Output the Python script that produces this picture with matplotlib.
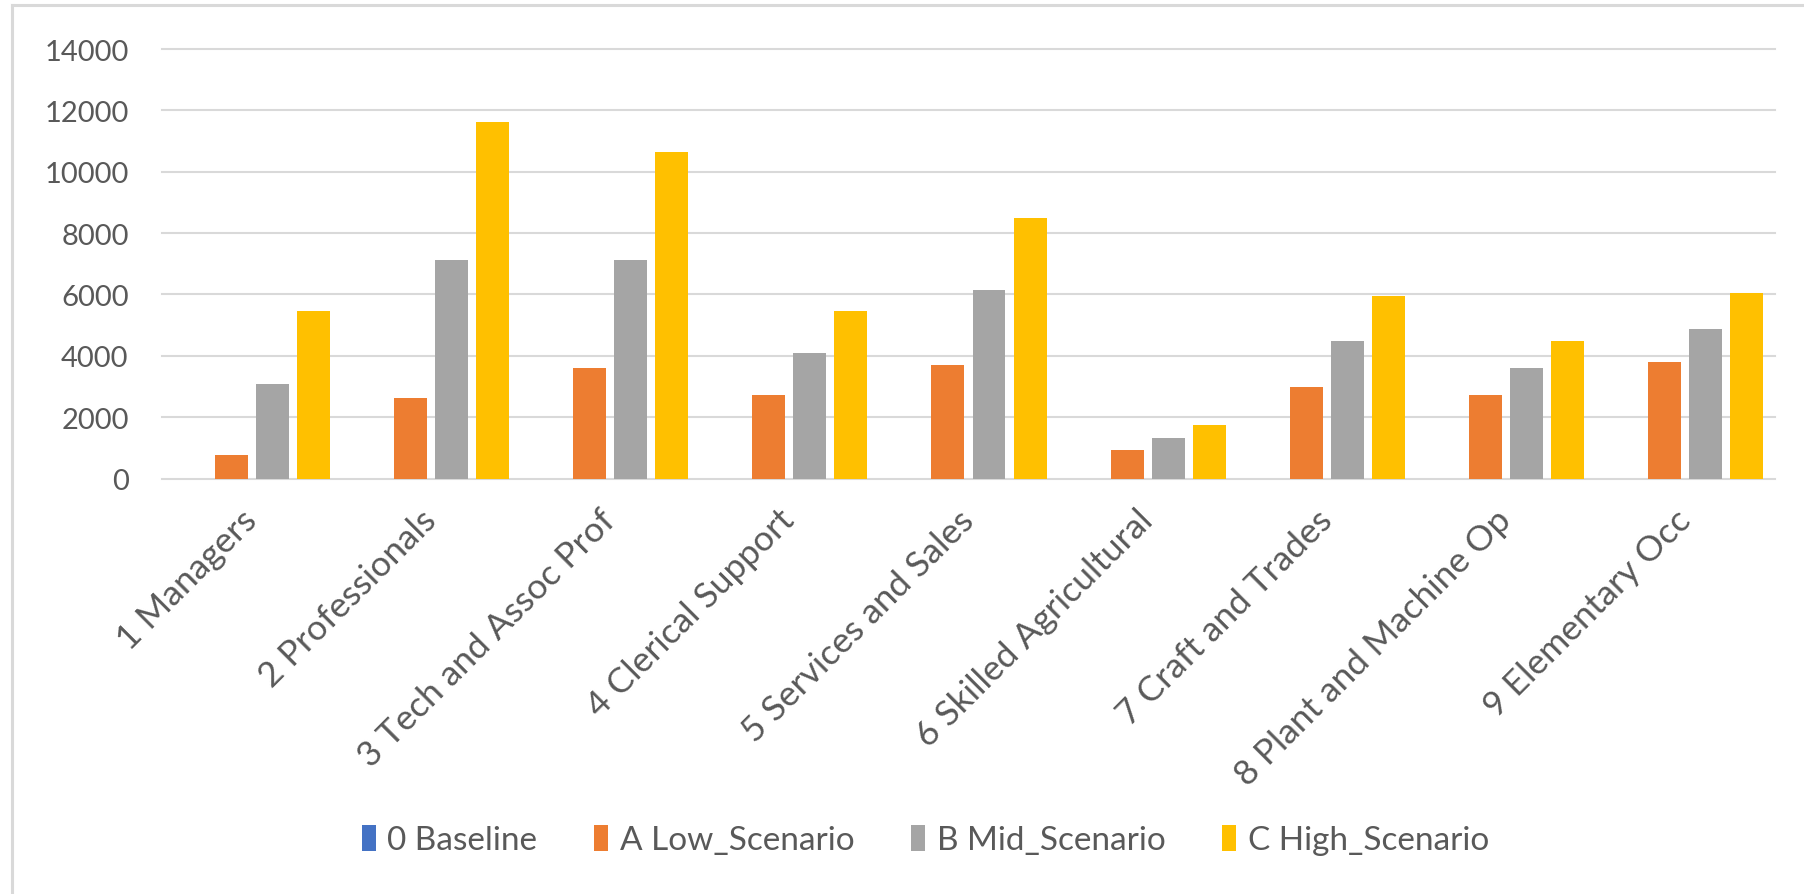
# System (Default)
import sys
# Numpy (Arrays)
import numpy as np
# Matplotlib (Visualization)
import matplotlib
matplotlib.use('Agg')
import matplotlib.pyplot as plt
from matplotlib.lines import Line2D

# Occupation groups (x-axis)
occupations = ['1 Managers', '2 Professionals', '3 Tech and Assoc Prof', '4 Clerical Support',
               '5 Services and Sales', '6 Skilled Agricultural', '7 Craft and Trades',
               '8 Plant and Machine Op', '9 Elementary Occ']

# Scenario names (legend)
scenarios = ['0 Baseline', 'A Low_Scenario', 'B Mid_Scenario', 'C High_Scenario']

# Values per scenario
baseline      = [0, 0, 0, 0, 0, 0, 0, 0, 0]
low_scenario  = [760, 2630, 3600, 2710, 3690, 940, 3000, 2710, 3800]
mid_scenario  = [3090, 7110, 7110, 4090, 6130, 1320, 4480, 3600, 4860]
high_scenario = [5450, 11610, 10640, 5450, 8490, 1740, 5940, 4480, 6060]

# Y-axis ticks
y_ticks = [0, 2000, 4000, 6000, 8000, 10000, 12000, 14000]


def main():
    plt.rcParams['font.family'] = ['Lato', 'DejaVu Sans']
    text_color = '#595959'
    grid_color = '#D9D9D9'
    colors = ['#4472C4', '#ED7D31', '#A5A5A5', '#FFC000']
    series = [baseline, low_scenario, mid_scenario, high_scenario]

    fig = plt.figure(figsize=(18.04, 8.95), dpi=100)
    ax = fig.add_axes([0.0898, 0.4642, 0.8941, 0.4799])

    # Light frame around the chart area (left and top edges)
    fig.add_artist(Line2D([12 / 1804, 12 / 1804], [0, 1 - 6 / 895], transform=fig.transFigure,
                          color=grid_color, linewidth=2.2))
    fig.add_artist(Line2D([12 / 1804, 1], [1 - 6 / 895, 1 - 6 / 895], transform=fig.transFigure,
                          color=grid_color, linewidth=2.2))

    # Clustered bars
    x = np.arange(len(occupations))
    slot = 0.229
    width = 0.184
    for i, (name, values) in enumerate(zip(scenarios, series)):
        offset = (i - 1.5) * slot
        ax.bar(x + offset, values, width, color=colors[i], label=name, zorder=3)

    ax.set_xlim(-0.5, len(occupations) - 0.5)
    ax.set_ylim(0, 14000)
    ax.set_yticks(y_ticks)
    ax.set_yticklabels([str(t) for t in y_ticks])
    ax.grid(axis='y', color=grid_color, linewidth=1.5, zorder=0)
    for gl in ax.get_ygridlines():
        gl.set_clip_on(False)
    for spine in ax.spines.values():
        spine.set_visible(False)

    ax.set_xticks(x)
    ax.set_xticklabels(occupations, rotation=45, ha='right', va='center', rotation_mode='anchor')
    ax.tick_params(axis='x', length=0, pad=26, labelsize=25.5, labelcolor=text_color)
    ax.tick_params(axis='y', length=0, pad=24, labelsize=21, labelcolor=text_color)

    # Legend below the chart
    fig.legend(loc='center', bbox_to_anchor=(0.513, 0.0603), ncol=4, frameon=False,
               fontsize=24, labelcolor=text_color, handlelength=0.42, handleheight=0.85,
               handletextpad=0.35, columnspacing=1.7)

    fig.savefig('out.png', dpi=100)


if __name__ == '__main__':
    sys.exit(main())
